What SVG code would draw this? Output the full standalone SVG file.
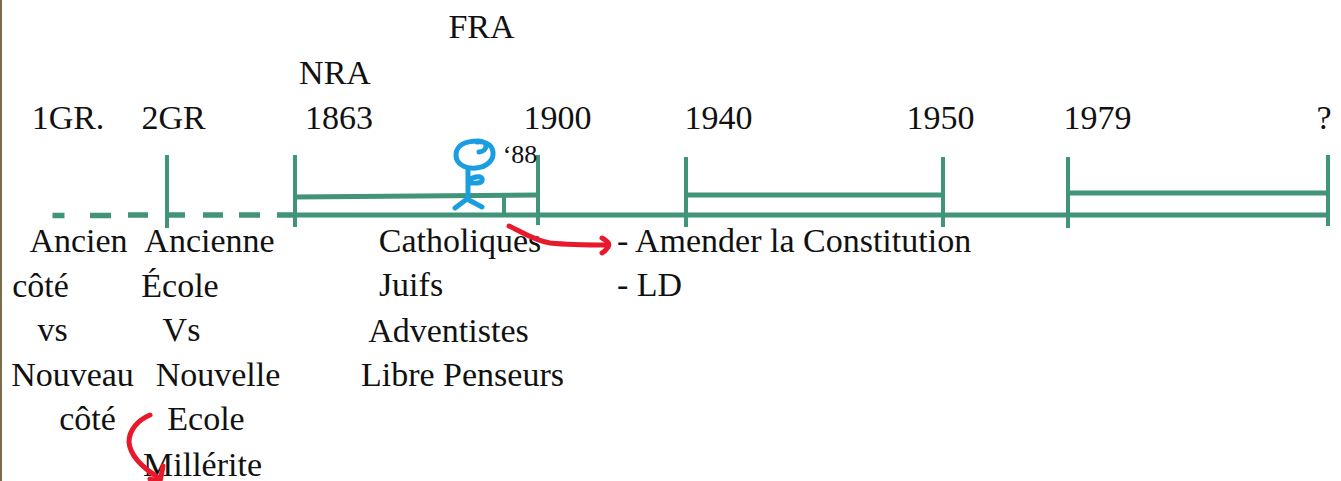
<svg xmlns="http://www.w3.org/2000/svg" width="1341" height="481" viewBox="0 0 1341 481">
  <style>
    .t { font-family: "Liberation Serif", "Times New Roman", serif; font-size: 34px; fill: #111; }
    .m { text-anchor: middle; }
    .s { font-size: 26px; }
    .g { stroke: #41937a; fill: none; stroke-linecap: butt; }
    .red { stroke: #e8192c; fill: none; stroke-width: 5; stroke-linecap: round; stroke-linejoin: round; }
    .blue { stroke: #1a9ee0; fill: none; stroke-width: 5; stroke-linecap: round; stroke-linejoin: round; }
  </style>
  <rect x="0" y="0" width="1341" height="481" fill="#ffffff"/>
  <line x1="1" y1="0" x2="1" y2="481" stroke="#7b6c4a" stroke-width="2"/>

  <g id="timeline">
    <path class="g" stroke-width="5.5" d="M52.5,215.5 H64.5 M90,215.5 H111 M128,215 H148 M165,215 H185 M203,215 H223 M239,215 H260 M277,215 H295"/>
    <line class="g" x1="295" y1="215" x2="1330" y2="215" stroke-width="5"/>
    <line class="g" x1="167" y1="155" x2="167" y2="228" stroke-width="4"/>
    <line class="g" x1="295" y1="155" x2="295" y2="227" stroke-width="4"/>
    <line class="g" x1="538" y1="155" x2="538" y2="225" stroke-width="4"/>
    <line class="g" x1="504" y1="196" x2="504" y2="214" stroke-width="4"/>
    <line class="g" x1="686" y1="157" x2="686" y2="227" stroke-width="4"/>
    <line class="g" x1="943" y1="157" x2="943" y2="227" stroke-width="4"/>
    <line class="g" x1="1068" y1="157" x2="1068" y2="228" stroke-width="4"/>
    <line class="g" x1="1328" y1="155" x2="1328" y2="226" stroke-width="4"/>
    <line class="g" x1="295" y1="197" x2="538" y2="195" stroke-width="5"/>
    <line class="g" x1="686" y1="195" x2="943" y2="195" stroke-width="5"/>
    <line class="g" x1="1068" y1="193" x2="1328" y2="193" stroke-width="5"/>
  </g>

  <g id="years">
    <text class="t m" x="68" y="129">1GR.</text>
    <text class="t m" x="173.5" y="129">2GR</text>
    <text class="t m" x="339" y="129">1863</text>
    <text class="t m" x="335" y="84">NRA</text>
    <text class="t m" x="481.5" y="38">FRA</text>
    <text class="t m" x="557.5" y="129">1900</text>
    <text class="t m" x="718.5" y="129">1940</text>
    <text class="t m" x="940.5" y="129">1950</text>
    <text class="t m" x="1097.5" y="129">1979</text>
    <text class="t m" x="1324" y="129">?</text>
    <text class="t s m" x="520" y="163">‘88</text>
  </g>

  <g id="figure">
    <path class="blue" d="M479,152 C488,151 489,141 478,141 C466,141 456,145 456,155 C456,164 465,169 476,168 C487,167 494,160 493,152 C492,145 486,141 477,142"/>
    <path class="blue" d="M468,168 L468,199"/>
    <path class="blue" d="M469,180 C476,175 484,176 482,181 C480,184 474,183 470,183"/>
    <path class="blue" d="M455,208 L467,199 L482,207"/>
  </g>

  <g id="col-1gr">
    <text class="t m" x="78.5" y="252">Ancien</text>
    <text class="t m" x="40.5" y="297">côté</text>
    <text class="t m" x="52.5" y="341">vs</text>
    <text class="t m" x="72.5" y="386">Nouveau</text>
    <text class="t m" x="87.5" y="430">côté</text>
  </g>

  <g id="col-2gr">
    <text class="t m" x="209.5" y="252">Ancienne</text>
    <text class="t m" x="180" y="297">École</text>
    <text class="t m" x="181.5" y="341">Vs</text>
    <text class="t m" x="218" y="386">Nouvelle</text>
    <text class="t m" x="206" y="430">Ecole</text>
    <text class="t m" x="202.5" y="476">Millérite</text>
  </g>

  <g id="col-groups">
    <text class="t m" x="460" y="252">Catholiques</text>
    <text class="t m" x="411" y="296">Juifs</text>
    <text class="t m" x="448.5" y="342">Adventistes</text>
    <text class="t m" x="462.5" y="386">Libre Penseurs</text>
  </g>

  <g id="col-goals">
    <text class="t" x="617" y="252">- Amender la Constitution</text>
    <text class="t" x="617" y="296">- LD</text>
  </g>

  <g id="connectors">
    <path class="red" d="M509,226 C520,231 535,241 550,243 C570,245 590,245 607,245"/>
    <path class="red" d="M602,238 C608,241 610,244 608,247 C606,250 604,252 602,253"/>
    <path class="red" d="M150,415 C138,420 129,430 129,442 C130,456 143,468 159,478"/>
    <path class="red" d="M163,466 C162,472 161,477 160,481 M150,479 C154,480 157,481 160,481"/>
  </g>
</svg>
